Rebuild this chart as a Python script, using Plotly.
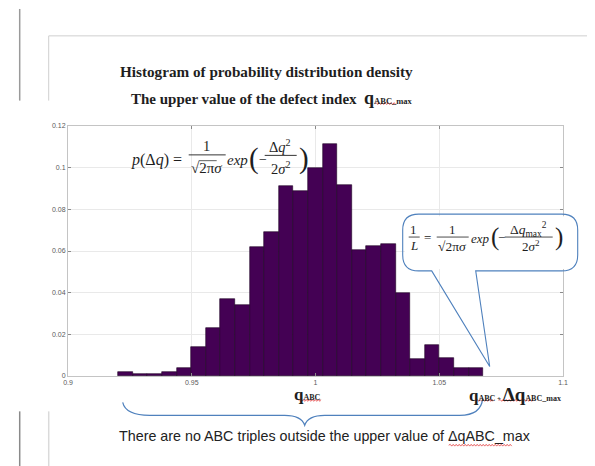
import plotly.graph_objects as go

# ---------------- data ----------------
bin_centers = [0.9232, 0.9291, 0.9350, 0.9409, 0.9468, 0.9527, 0.9586, 0.9645,
               0.9704, 0.9763, 0.9822, 0.9881, 0.9940, 0.9999, 1.0058, 1.0117,
               1.0176, 1.0235, 1.0294, 1.0353, 1.0412, 1.0471, 1.0530, 1.0589,
               1.0648]
density = [0.0020, 0.0009, 0.0009, 0.0020, 0.0040, 0.0139, 0.0231, 0.0370,
           0.0340, 0.0620, 0.0689, 0.0910, 0.0889, 0.1000, 0.1113, 0.0919,
           0.0605, 0.0624, 0.0634, 0.0400, 0.0080, 0.0147, 0.0087, 0.0040,
           0.0040]
bin_width = 0.0059
x_ticks = [0.9, 0.95, 1.0, 1.05, 1.1]
x_tick_labels = ["0.9", "0.95", "1", "1.05", "1.1"]
y_ticks = [0, 0.02, 0.04, 0.06, 0.08, 0.1, 0.12]
y_tick_labels = ["0", "0.02", "0.04", "0.06", "0.08", "0.1", "0.12"]

title_1 = "Histogram of probability distribution density"
title_2 = "The upper value of the defect index"
footnote = "There are no ABC triples outside the upper value of ΔqABC_max"

# ---------------- geometry helpers (window pixel coordinates) ----------------
WIN_W, WIN_H = 595, 466
OFF = 8  # default page body margin
L, R, T, B = 68.3, 563.3, 125.5, 376.5
PW, PH = R - L, B - T
SERIF = "Liberation Serif"
SANS = "Liberation Sans"
BLUE = "rgb(79,129,189)"


def fx(px):
    return (px - L) / PW


def fy(py):
    return (B - py) / PH


annotations = []
shapes = []


def txt(s, px, py, size, family=SERIF, color="#1e1e1e", xanchor="center", yanchor="middle"):
    annotations.append(dict(text=s, x=fx(px), y=fy(py), xref="paper", yref="paper",
                            showarrow=False, font=dict(size=size, family=family, color=color),
                            xanchor=xanchor, yanchor=yanchor))


def line(x0, y0, x1, y1, color="#1e1e1e", width=1.0, layer="above"):
    shapes.append(dict(type="line", xref="paper", yref="paper", x0=fx(x0), y0=fy(y0),
                       x1=fx(x1), y1=fy(y1), line=dict(color=color, width=width), layer=layer))


def path(cmds, color=BLUE, width=1.0, fill=None, layer="above"):
    parts = []
    for c in cmds:
        op, pts = c[0], c[1:]
        coords = " ".join(f"{fx(pts[i]):.5f},{fy(pts[i + 1]):.5f}" for i in range(0, len(pts), 2))
        parts.append(f"{op} {coords}".strip())
    d = dict(type="path", xref="paper", yref="paper", path=" ".join(parts),
             line=dict(color=color, width=width), layer=layer)
    if fill:
        d["fillcolor"] = fill
    shapes.append(d)


def rect(x0, y0, x1, y1, fill="white", layer="between"):
    shapes.append(dict(type="rect", xref="paper", yref="paper", x0=fx(x0), y0=fy(y1),
                       x1=fx(x1), y1=fy(y0), fillcolor=fill, line=dict(width=0), layer=layer))


def wavy(x0, x1, y, color="#e23b3b"):
    cmds = [("M", x0, y)]
    x, up = x0, True
    while x < x1:
        x = min(x + 1.5, x1)
        cmds.append(("L", x, y - 0.9 if up else y + 0.9))
        up = not up
    path(cmds, color=color, width=0.8)


# ---------------- figure ----------------
fig = go.Figure(go.Bar(x=bin_centers, y=density, width=bin_width,
                       marker=dict(color="#440154", line=dict(color="#1c0022", width=0.6)),
                       hoverinfo="skip"))

axis_common = dict(showgrid=True, gridcolor="#e9e9e9", gridwidth=1, zeroline=False,
                   showline=True, linecolor="#c4c4c4", linewidth=1, mirror="ticks",
                   ticks="inside", ticklen=3, tickcolor="#8a8a8a",
                   tickfont=dict(size=7, family=SANS, color="#5a5a5a"))

fig.update_layout(
    width=WIN_W - OFF, height=WIN_H - OFF,
    margin=dict(l=L - OFF, r=WIN_W - R, t=T - OFF, b=WIN_H - B, autoexpand=False),
    paper_bgcolor="white", plot_bgcolor="white",
    bargap=0, showlegend=False,
    xaxis=dict(range=[0.9, 1.1], tickvals=x_ticks, ticktext=x_tick_labels, **axis_common),
    yaxis=dict(range=[0, 0.12], tickvals=y_ticks, ticktext=y_tick_labels, **axis_common),
)

# page / frame decorations
line(20, 8, 20, 100, color="#9a9a9a", width=1.5)
line(49, 35, 600, 35, color="#cfcfcf", width=1)
line(49, 35, 49, 100, color="#cfcfcf", width=1)
line(20, 412, 20, 470, color="#8a8a8a", width=1.5)
line(49, 412, 49, 470, color="#dadada", width=1.5)

# titles
txt(f"<b>{title_1}</b>", 267, 71, 15.2)
txt(f"<b>{title_2}  </b><b><span style='font-size:18px'>q</span>"
    f"<span style='font-size:8.5px'>ABC_max</span></b>", 272, 97, 15)
wavy(375, 396, 103)

# formula 1 (inside plot, top-left)
rect(126, 136, 306, 181)
txt("<i>p</i>(Δ<i>q</i>) =", 184, 160, 16, xanchor="right")
txt("1", 207, 146, 14.5)
line(189, 154.5, 226, 154.5, width=0.9)
txt("√2π<i>σ</i>", 207, 167.5, 15)
line(199, 160.3, 217, 160.3, width=0.7)
txt("<i>exp</i>", 238, 160, 15)
txt("(", 254, 158, 29)
txt("−", 263, 159, 14)
txt("Δ<i>q</i><sup>2</sup>", 280, 146, 14.5)
line(265, 155, 297, 155, width=0.9)
txt("2<i>σ</i><sup>2</sup>", 281, 167.5, 14.5)
txt(")", 304, 158, 29)

# callout with formula 2
x0, y0, x1, y1, r = 403, 214, 578, 271, 16
rect(x0 + 2, y0 + 2, x1 - 2, y1 - 2, layer="above")
path([("M", x0 + r, y0), ("L", x1 - r, y0), ("Q", x1, y0, x1, y0 + r),
      ("L", x1, y1 - r), ("Q", x1, y1, x1 - r, y1), ("L", 476, y1), ("L", 490, 367),
      ("L", 432, y1), ("L", x0 + r, y1), ("Q", x0, y1, x0, y1 - r),
      ("L", x0, y0 + r), ("Q", x0, y0, x0 + r, y0)], color=BLUE, width=1.1)
txt("1", 414, 229.5, 13)
line(409, 237, 420, 237, width=0.8)
txt("<i>L</i>", 414, 245.5, 13)
txt("=", 428, 237, 13)
txt("1", 453, 229.5, 13)
line(437, 237, 469, 237, width=0.8)
txt("√2π<i>σ</i>", 453, 246, 13.5)
txt("<i>exp</i>", 481, 238, 13)
txt("(", 495, 237, 25)
txt("−", 502, 237, 13)
txt("Δ<i>q</i><sub>max</sub><sup>2</sup>", 529, 229, 13.5)
line(505, 237, 553, 237, width=0.8)
txt("2<i>σ</i><sup>2</sup>", 531, 246, 13)
txt(")", 559, 237, 25)

# labels under the axis
txt("<b><span style='font-size:17px'>q</span><span style='font-size:8px'>ABC</span></b>",
    308, 395, 17)
wavy(299, 321, 401)
txt("<b><span style='font-size:17px'>q</span><span style='font-size:8px'>ABC</span>"
    "<span style='font-size:7px'> + </span>"
    "<span style='font-size:19px'>Δq</span><span style='font-size:8px'>ABC_max</span></b>",
    515, 395, 17)
wavy(476, 493, 401)
wavy(499, 533, 401)

# curly brace
path([("M", 123, 403), ("C", 125, 412, 135, 416, 150, 416), ("L", 285, 416),
      ("C", 297, 416, 303, 420, 305, 426), ("C", 307, 420, 313, 416, 325, 416),
      ("L", 460, 416), ("C", 475, 416, 482, 410, 483, 399)], color=BLUE, width=1.2)

# footnote sentence
txt(footnote, 325, 437, 14.3, family=SANS, color="#222222")
wavy(449, 512, 446)

fig.update_layout(annotations=annotations, shapes=shapes)
fig.write_html("out.html")
